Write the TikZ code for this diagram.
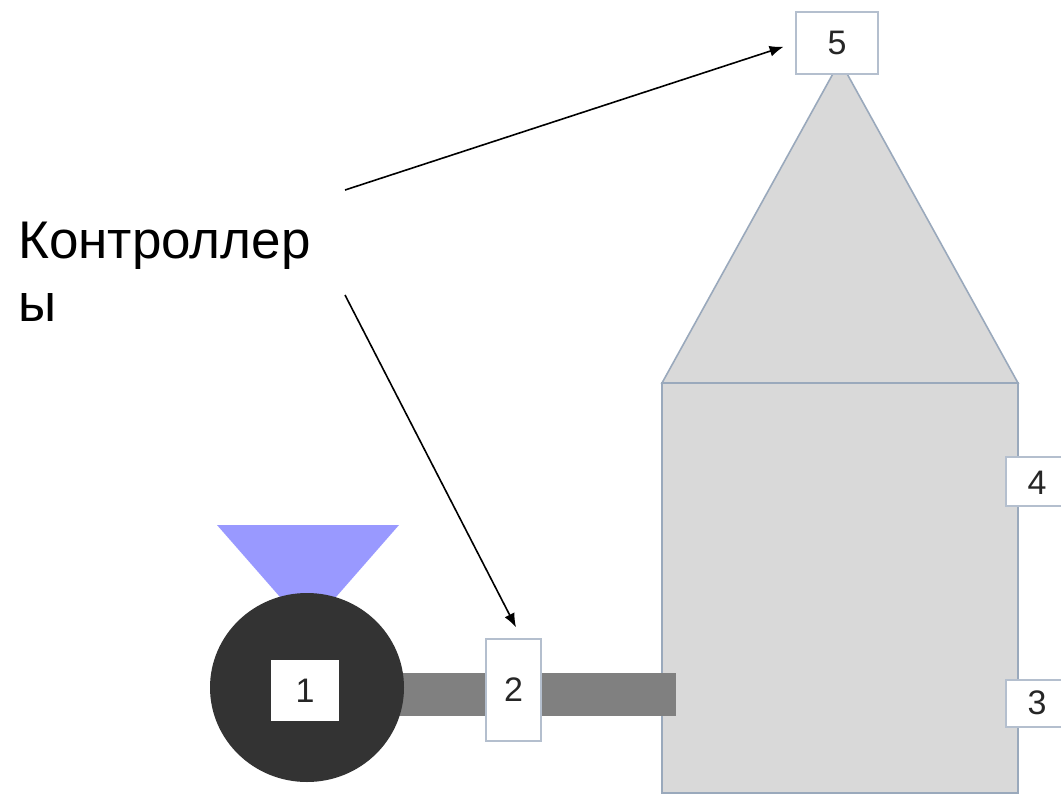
\documentclass[tikz,border=0pt]{standalone}
\usepackage{fontspec}
\setmainfont{Liberation Sans}
\usetikzlibrary{arrows.meta,shapes.geometric}
\definecolor{edgeblue}{HTML}{9AA9BC}
\definecolor{boxedge}{HTML}{B4BFCE}
\definecolor{bodygray}{HTML}{D9D9D9}
\definecolor{funnel}{HTML}{9999FF}
\definecolor{motor}{HTML}{333333}
\definecolor{pipe}{HTML}{808080}
\tikzset{
  bodyshape/.style={fill=bodygray,draw=edgeblue,line width=1.6pt,line join=miter},
  digitfont/.style={font=\fontsize{34}{34}\selectfont,text=black!85},
  ctrlbox/.style={draw=boxedge,fill=white,line width=2pt,inner sep=0pt,digitfont},
  pointer/.style={draw=black,line width=1.6pt,-{Latex[length=14pt,width=11pt]}},
  caption/.style={inner sep=0pt,anchor=north west,align=left,font=\fontsize{53}{63}\selectfont,text=black}
}
\begin{document}
\begin{tikzpicture}[x=1pt,y=-1pt]
\useasboundingbox (0,0) rectangle (1061,795);
\clip (0,0) rectangle (1061,795);
\fill[white] (0,0) rectangle (1061,795);
% house
\path[bodyshape] (840,61) -- (1018,383) -- (662,383) -- cycle;
\path[bodyshape] (662,383) rectangle (1018,793);
% funnel
\fill[funnel] (217,525) -- (399,525) -- (308,629) -- cycle;
% pipe
\fill[pipe] (395,673) rectangle (676,716);
% motor
\node[ellipse,fill=motor,minimum width=194pt,minimum height=189pt,inner sep=0pt] (motorc) at (307,687.5) {};
% controllers
\node[ctrlbox,draw=none,minimum width=68pt,minimum height=61pt] (b1) at (305,690.5) {1};
\node[ctrlbox,minimum width=55pt,minimum height=102pt] (b2) at (513.5,690) {2};
\node[ctrlbox,minimum width=82pt,minimum height=62pt] (b3) at (837,43) {5};
\node[ctrlbox,minimum width=76pt,minimum height=49pt,anchor=west] (b4) at (1005,481.5) {};
\node[ctrlbox,minimum width=76pt,minimum height=47pt,anchor=west] (b5) at (1005,703.5) {};
\node[digitfont,inner sep=0pt] (t4) at (1037,483) {4};
\node[digitfont,inner sep=0pt] (t3) at (1037,703) {3};
% caption
\node[caption] (cap) at (18,222) {Контроллер\\ы};
\coordinate (fromA) at (345,190);
\coordinate (fromB) at (345,295);
\draw[pointer,shorten >=12pt] (fromA) -- (b3.west);
\draw[pointer,shorten >=12pt] (fromB) -- ([xshift=8pt]b2.north);
\end{tikzpicture}
\end{document}
